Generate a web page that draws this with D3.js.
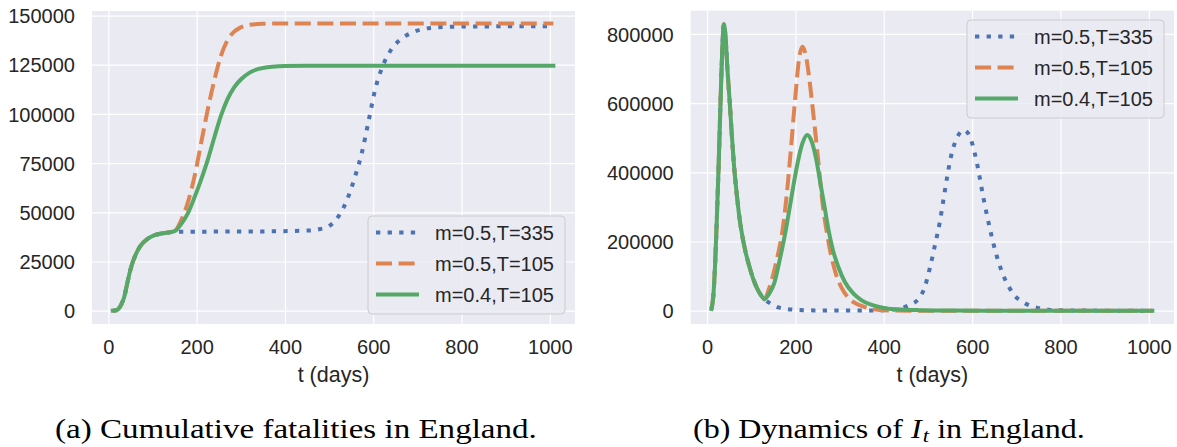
<!DOCTYPE html>
<html><head><meta charset="utf-8">
<script src="https://cdn.jsdelivr.net/npm/d3@7"></script>
<style>html,body{margin:0;padding:0;background:#fff;overflow:hidden}</style>
</head><body><svg id="c" width="1177" height="447"></svg>
<script>
// ---------- data ----------
const seriesLabels = ["m=0.5,T=335", "m=0.5,T=105", "m=0.4,T=105"];
const dayTicks = [0, 200, 400, 600, 800, 1000];
const cumTicks = [0, 25000, 50000, 75000, 100000, 125000, 150000];
const infTicks = [0, 200000, 400000, 600000, 800000];
const xLabel = "t (days)";
const captionA = "(a) Cumulative fatalities in England.";

// Cumulative fatalities: first wave shared by all three scenarios
const cumSharedDays = [10, 18, 24, 30, 36, 42, 48, 55, 62, 70, 80, 92, 105, 120, 135];
const cumSharedVals = [0, 200, 1200, 3500, 7000, 13000, 19000, 24500, 28500, 32000, 34800, 37000, 38400, 39200, 39700];
const cumBlueDays = [150, 250, 350, 450, 480, 500, 520, 540, 560, 575, 590, 605, 620, 640, 660, 690, 730, 800, 900, 1008];
const cumBlueVals = [40100, 40200, 40300, 40700, 41500, 43000, 47500, 56000, 69000, 81000, 97000, 113000, 123500, 132500, 137500, 141500, 143700, 144400, 144500, 144500];
const cumOrangeDays = [150, 165, 180, 195, 210, 225, 240, 255, 270, 285, 300, 320, 350, 400, 500, 1008];
const cumOrangeVals = [40400, 46000, 55000, 68000, 85000, 102000, 117000, 129500, 137500, 141800, 144000, 145300, 145800, 146000, 146000, 146000];
const cumGreenDays = [150, 165, 180, 195, 210, 225, 240, 255, 270, 285, 300, 320, 350, 400, 450, 1008];
const cumGreenVals = [40400, 44000, 49500, 57500, 66500, 76500, 88000, 99000, 107500, 113500, 117500, 121000, 123300, 124300, 124500, 124500];

// Infected I_t: first wave shared by all three scenarios
const infSharedDays = [10, 14, 18, 22, 26, 30, 34, 38, 42, 46, 51, 56, 61, 67, 73, 80, 88, 96, 105, 115, 123];
const infSharedVals = [5000, 40000, 127000, 260000, 410000, 580000, 740000, 828000, 790000, 700000, 609000, 510000, 420000, 340000, 272000, 215000, 165000, 127000, 90000, 60000, 43000];
const infBlueDays = [130, 143, 160, 180, 200, 250, 300, 350, 400, 430, 458, 480, 493, 505, 516, 527, 535, 544, 552, 561, 570, 580, 590, 599, 612, 625, 638, 650, 660, 672, 685, 697, 710, 723, 748, 773, 800, 900, 1008];
const infBlueVals = [33000, 21000, 10000, 5000, 2500, 700, 300, 300, 1000, 4000, 16500, 36000, 69000, 127000, 190000, 257000, 320000, 390000, 445000, 485000, 510000, 522000, 514000, 488000, 420000, 330000, 250000, 185000, 140000, 98000, 65000, 42000, 29000, 19000, 8000, 3000, 1000, 100, 0];
const infOrangeDays = [130, 140, 150, 160, 170, 180, 190, 200, 208, 216, 224, 232, 240, 250, 262, 272, 280, 292, 305, 320, 335, 350, 370, 390, 420, 500, 1008];
const infOrangeVals = [33000, 62000, 105000, 160000, 225000, 330000, 470000, 620000, 725000, 763000, 735000, 665000, 575000, 455000, 305000, 220000, 165000, 105000, 65000, 37000, 22000, 14000, 6000, 2000, 500, 0, 0];
const infGreenDays = [130, 140, 152, 165, 177, 188, 199, 208, 216, 227, 236, 246, 258, 266, 275, 285, 297, 312, 331, 350, 373, 400, 430, 480, 550, 700, 1008];
const infGreenVals = [33000, 48000, 79000, 150000, 224000, 305000, 387000, 445000, 484000, 508000, 492000, 445000, 358000, 300000, 233000, 175000, 127000, 83000, 50000, 30000, 16500, 8000, 4000, 1500, 500, 0, 0];

// ---------- helpers ----------
const zip = (ds, vs) => ds.map((d, i) => [d, vs[i]]);
const join = (aD, aV, bD, bV) => zip(aD, aV).concat(zip(bD, bV));

const colors = ["#4C72B0", "#DD8452", "#55A868"];
const dashes = ["4.3,7.3", "16,6.6", null];
const caps = ["butt", "butt", "square"];

const cumSeries = [
  join(cumSharedDays, cumSharedVals, cumBlueDays, cumBlueVals),
  join(cumSharedDays, cumSharedVals, cumOrangeDays, cumOrangeVals),
  join(cumSharedDays, cumSharedVals, cumGreenDays, cumGreenVals)
];
const infSeries = [
  join(infSharedDays, infSharedVals, infBlueDays, infBlueVals),
  join(infSharedDays, infSharedVals, infOrangeDays, infOrangeVals),
  join(infSharedDays, infSharedVals, infGreenDays, infGreenVals)
];

const svg = d3.select("#c");
const FONT = "'Liberation Sans', Arial, sans-serif";
const TXT = "#262626";

const panels = [
  {x0: 92, x1: 575, y0: 11, y1: 324, yDomain: [-6760, 152300], yTicks: cumTicks, series: cumSeries, legend: [368, 216]},
  {x0: 690.7, x1: 1174, y0: 10.7, y1: 324, yDomain: [-38500, 867000], yTicks: infTicks, series: infSeries, legend: [967, 20]}
];

panels.forEach(p => {
  const x = d3.scaleLinear().domain([-37, 1057]).range([p.x0, p.x1]);
  const y = d3.scaleLinear().domain(p.yDomain).range([p.y1, p.y0]);
  const g = svg.append("g");
  g.append("rect").attr("x", p.x0).attr("y", p.y0)
    .attr("width", p.x1 - p.x0).attr("height", p.y1 - p.y0).attr("fill", "#EAEAF2");

  const ax = g.append("g").attr("transform", `translate(0,${p.y1})`)
    .call(d3.axisBottom(x).tickValues(dayTicks).tickFormat(d3.format("d"))
      .tickSizeInner(-(p.y1 - p.y0)).tickSizeOuter(0).tickPadding(16));
  const ay = g.append("g").attr("transform", `translate(${p.x0},0)`)
    .call(d3.axisLeft(y).tickValues(p.yTicks).tickFormat(d3.format("d"))
      .tickSizeInner(-(p.x1 - p.x0)).tickSizeOuter(0).tickPadding(17));
  [ax, ay].forEach(a => {
    a.select(".domain").remove();
    a.selectAll(".tick line").attr("stroke", "#ffffff").attr("stroke-width", 1.2);
    a.selectAll(".tick text").attr("fill", TXT).style("font-family", FONT).style("font-size", "20px");
  });
  ay.selectAll(".tick text").attr("dy", "0.36em");

  g.append("text").attr("x", (p.x0 + p.x1) / 2).attr("y", 382)
    .attr("text-anchor", "middle").attr("fill", TXT)
    .style("font-family", FONT).style("font-size", "21.5px").text(xLabel);

  const line = d3.line().x(d => x(d[0])).y(d => y(d[1])).curve(d3.curveMonotoneX);
  p.series.forEach((s, i) => {
    g.append("path").datum(s).attr("d", line).attr("fill", "none")
      .attr("stroke", colors[i]).attr("stroke-width", 4)
      .attr("stroke-linejoin", "round").attr("stroke-linecap", caps[i])
      .attr("stroke-dasharray", dashes[i]);
  });

  // legend
  const [lx, ly] = p.legend;
  const lg = svg.append("g");
  lg.append("rect").attr("x", lx).attr("y", ly).attr("width", 197).attr("height", 98)
    .attr("rx", 4).attr("fill", "#EAEAF2").attr("fill-opacity", 0.8)
    .attr("stroke", "#cccccc").attr("stroke-width", 1);
  seriesLabels.forEach((lab, i) => {
    const ry = ly + 16.5 + i * 31;
    lg.append("line").attr("x1", lx + 8).attr("x2", lx + 51).attr("y1", ry).attr("y2", ry)
      .attr("stroke", colors[i]).attr("stroke-width", 4)
      .attr("stroke-linecap", "butt")
      .attr("stroke-dasharray", dashes[i]);
    lg.append("text").attr("x", lx + 67).attr("y", ry + 7).attr("fill", TXT)
      .style("font-family", FONT).style("font-size", "20px").text(lab);
  });
});

// captions
const SERIF = "'Liberation Serif', 'Times New Roman', serif";
function fitCaption(t, x0, width) {
  const w = t.node().getBBox().width;
  t.attr("transform", `translate(${x0},438) scale(${width / w},1)`);
}
const ca = svg.append("text").attr("x", 0).attr("y", 0).attr("fill", "#000")
  .style("font-family", SERIF).style("font-size", "27px").text(captionA);
fitCaption(ca, 55, 482);

const cb = svg.append("text").attr("x", 0).attr("y", 0).attr("fill", "#000")
  .style("font-family", SERIF).style("font-size", "27px");
cb.append("tspan").text("(b) Dynamics of ");
cb.append("tspan").style("font-style", "italic").text("I");
cb.append("tspan").style("font-style", "italic").style("font-size", "19px").attr("dy", 4).attr("dx", 1).text("t");
cb.append("tspan").attr("dy", -4).text(" in England.");
fitCaption(cb, 693, 392);
</script></body></html>
